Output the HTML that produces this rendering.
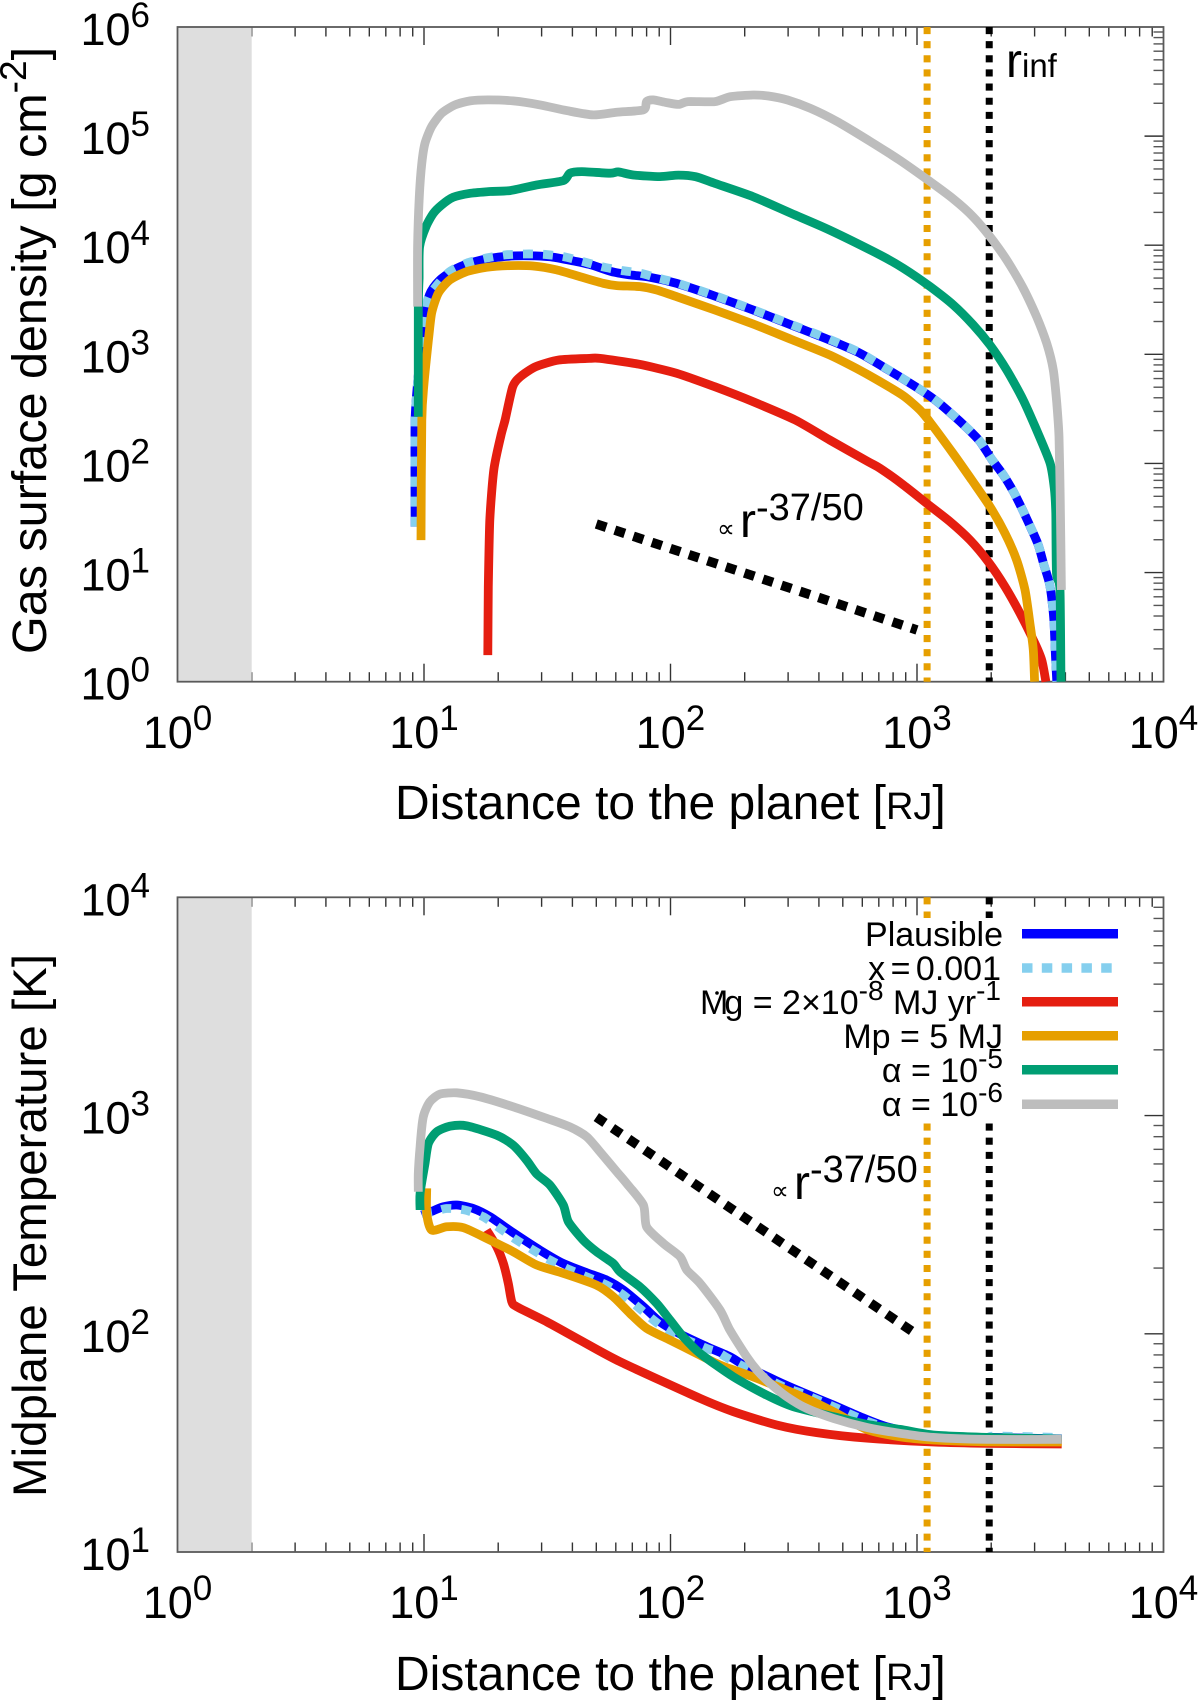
<!DOCTYPE html>
<html lang="en">
<head>
<meta charset="utf-8">
<title>Gas surface density and midplane temperature</title>
<style>
html,body{margin:0;padding:0;background:#fff;}
svg{display:block;}
text{font-family:"Liberation Sans","DejaVu Sans",sans-serif;fill:#000;}
</style>
</head>
<body>
<svg id="chart" xmlns="http://www.w3.org/2000/svg" width="1200" height="1701" viewBox="0 0 1200 1701">
  <rect x="0" y="0" width="1200" height="1701" fill="#fff"/>
  <g id="top-layer"></g>
  <g id="bottom-layer"></g>

  <text transform="translate(46,654) rotate(-90)" font-size="48.5">Gas surface density [g cm<tspan font-size="37" dy="-20">-2</tspan><tspan dy="20">]</tspan></text>
  <text transform="translate(46,1497) rotate(-90)" font-size="47.5">Midplane Temperature [K]</text>
  <text x="395" y="819" font-size="48">Distance to the planet [<tspan font-size="38">RJ</tspan>]</text>
  <text x="395" y="1690" font-size="48">Distance to the planet [<tspan font-size="38">RJ</tspan>]</text>

  <text x="1006" y="77" font-size="48">r<tspan font-size="33">inf</tspan></text>
  <text x="717" y="537" font-size="25" font-family="DejaVu Sans">∝</text>
  <text x="740" y="537" font-size="48">r<tspan font-size="38" dy="-17">-37/50</tspan></text>
  <text x="771" y="1199" font-size="25" font-family="DejaVu Sans">∝</text>
  <text x="794" y="1199" font-size="48">r<tspan font-size="38" dy="-17">-37/50</tspan></text>

  <g>
    <rect x="690" y="918" width="450" height="202" fill="#fff"/>
    <text x="1003" y="946" font-size="34" text-anchor="end">Plausible</text>
    <rect x="1022" y="929" width="96" height="9.5" fill="#0000ff"/>
    <text x="1001" y="980" font-size="34" text-anchor="end" word-spacing="-4">x = 0.001</text>
    <line x1="1022" y1="968" x2="1114" y2="968" stroke="#85cfee" stroke-width="9.5" stroke-dasharray="10.5 9.3"/>
    <text x="1001" y="1014" font-size="34" text-anchor="end">M<tspan dx="-4">g</tspan> = 2×10<tspan font-size="28" dy="-14">-8</tspan><tspan dy="14"> MJ yr</tspan><tspan font-size="28" dy="-14">-1</tspan></text>
    <circle cx="717" cy="993" r="1.8" fill="#000"/>
    <rect x="1022" y="997" width="96" height="9.5" fill="#e51e10"/>
    <text x="1003" y="1048" font-size="34" text-anchor="end">Mp = 5 MJ</text>
    <rect x="1022" y="1031" width="96" height="9.5" fill="#e69f00"/>
    <text x="1003" y="1082" font-size="34" text-anchor="end">α = 10<tspan font-size="28" dy="-14">-5</tspan></text>
    <rect x="1022" y="1065" width="96" height="9.5" fill="#009e73"/>
    <text x="1003" y="1116" font-size="34" text-anchor="end">α = 10<tspan font-size="28" dy="-14">-6</tspan></text>
    <rect x="1022" y="1099.5" width="96" height="9.5" fill="#bdbdbd"/>
  </g>
</svg>
<script>
// All series values are log10 of the physical quantity.
const xTickExponents = [0, 1, 2, 3, 4];
const sigmaTickExponents = [0, 1, 2, 3, 4, 5, 6];
const tempTickExponents = [1, 2, 3, 4];
const minorMultiples = [2, 3, 4, 5, 6, 7, 8, 9];

const innerHoleLogR = [0, 0.301];
const referenceLogR = [3.041, 3.293];
const guideLogR = [1.699, 3.0];
const guideSigmaLog = [1.445, 0.474];
const guideTempLog = [2.993, 1.996];

const sigmaPlausibleLogR = [0.964,0.964,0.980,0.997,1.022,1.065,1.133,1.207,1.288,1.369,1.450,1.525,1.606,1.680,1.761,1.836,1.917,2.025,2.180,2.335,2.490,2.646,2.770,2.884,2.951,3.019,3.082,3.145,3.204,3.256,3.303,3.350,3.391,3.427,3.461,3.492,3.515,3.537,3.549,3.556,3.562,3.567];
const sigmaPlausibleLog = [1.421,2.398,2.887,3.254,3.544,3.682,3.789,3.850,3.887,3.902,3.902,3.890,3.856,3.819,3.758,3.728,3.706,3.650,3.534,3.406,3.269,3.131,3.009,2.857,2.765,2.668,2.567,2.445,2.322,2.200,2.038,1.895,1.742,1.580,1.415,1.253,1.070,0.902,0.718,0.535,0.229,0];

const sigmaXLogR = [0.964,0.964,0.980,1.000,1.008,1.024,1.099,1.173,1.247,1.329,1.410,1.484,1.565,1.646,1.720,1.802,1.879,1.951,2.025,2.180,2.335,2.490,2.646,2.770,2.884,2.951,3.019,3.082,3.145,3.204,3.256,3.303,3.350,3.391,3.427,3.461,3.492,3.515,3.537,3.549,3.556,3.562,3.567];
const sigmaXLog = [1.421,2.398,2.890,3.280,3.438,3.550,3.749,3.835,3.880,3.911,3.920,3.917,3.896,3.850,3.804,3.768,3.743,3.697,3.655,3.538,3.410,3.274,3.137,3.013,2.858,2.766,2.669,2.568,2.446,2.323,2.201,2.039,1.896,1.743,1.581,1.416,1.254,1.071,0.903,0.719,0.536,0.230,0];

const sigmaRedLogR = [1.259,1.261,1.267,1.283,1.311,1.329,1.360,1.391,1.453,1.547,1.671,1.714,1.869,2.025,2.180,2.335,2.506,2.646,2.801,2.850,2.945,3.039,3.134,3.215,3.289,3.357,3.418,3.472,3.506,3.523];
const sigmaRedLog = [0.244,0.871,1.482,1.940,2.246,2.398,2.703,2.795,2.887,2.948,2.963,2.963,2.911,2.826,2.703,2.566,2.398,2.215,2.017,1.956,1.803,1.635,1.467,1.299,1.100,0.871,0.627,0.382,0.199,0];

const sigmaOrangeLogR = [0.988,0.991,1.000,1.018,1.031,1.058,1.105,1.173,1.254,1.349,1.443,1.538,1.633,1.727,1.782,1.876,1.944,2.025,2.180,2.335,2.490,2.646,2.754,2.850,2.945,3.012,3.059,3.147,3.222,3.296,3.357,3.404,3.438,3.458,3.472,3.477];
const sigmaOrangeLog = [1.298,2.398,2.734,3.132,3.376,3.560,3.682,3.758,3.798,3.813,3.810,3.774,3.712,3.651,3.630,3.621,3.590,3.528,3.406,3.278,3.137,2.994,2.871,2.750,2.620,2.490,2.360,2.090,1.849,1.604,1.360,1.115,0.841,0.535,0.291,0];

const sigmaGreenLogR = [0.977,0.977,0.980,0.982,1.008,1.038,1.072,1.119,1.187,1.268,1.349,1.457,1.565,1.592,1.640,1.755,1.788,1.849,1.957,2.032,2.102,2.180,2.335,2.490,2.646,2.850,2.945,3.053,3.147,3.228,3.296,3.364,3.431,3.485,3.540,3.557,3.563,3.566,3.580,3.584];
const sigmaGreenLog = [2.428,3.438,3.700,3.987,4.171,4.293,4.369,4.440,4.476,4.492,4.501,4.553,4.592,4.660,4.675,4.660,4.672,4.644,4.629,4.643,4.628,4.567,4.445,4.292,4.139,3.911,3.789,3.621,3.453,3.270,3.086,2.857,2.582,2.307,2.002,1.773,1.543,0.993,0.841,0];

const sigmaGreyLogR = [0.974,0.974,0.981,0.991,1.004,1.031,1.072,1.126,1.187,1.261,1.362,1.471,1.579,1.687,1.782,1.890,1.903,1.930,1.978,2.032,2.071,2.180,2.242,2.335,2.397,2.475,2.568,2.677,2.801,2.925,3.053,3.147,3.228,3.296,3.364,3.431,3.485,3.526,3.553,3.567,3.576,3.581,3.586];
const sigmaGreyLog = [3.438,3.987,4.446,4.751,4.935,5.087,5.210,5.286,5.323,5.332,5.323,5.286,5.234,5.194,5.219,5.240,5.317,5.332,5.310,5.291,5.316,5.316,5.361,5.377,5.368,5.331,5.254,5.132,4.964,4.787,4.583,4.425,4.260,4.079,3.865,3.606,3.346,3.101,2.857,2.551,2.246,1.696,0.841];

const tempPlausibleLogR = [0.991,1.038,1.078,1.133,1.200,1.268,1.362,1.471,1.565,1.660,1.741,1.809,1.890,1.957,2.039,2.147,2.241,2.309,2.458,2.539,2.661,2.769,2.877,3.066,3.283,3.310,3.587];
const tempPlausibleLog = [2.544,2.564,2.582,2.590,2.574,2.536,2.463,2.383,2.322,2.280,2.246,2.200,2.124,2.055,1.999,1.941,1.895,1.849,1.770,1.730,1.673,1.620,1.574,1.528,1.518,1.525,1.518];

const tempXLogR = [0.991,1.038,1.092,1.166,1.241,1.308,1.376,1.444,1.511,1.579,1.660,1.741,1.809,1.890,1.957,2.039,2.147,2.187,2.241,2.323,2.458,2.539,2.661,2.769,2.877,3.066,3.283,3.310,3.587];
const tempXLog = [2.552,2.559,2.574,2.567,2.536,2.483,2.429,2.383,2.338,2.299,2.261,2.223,2.177,2.101,2.040,1.986,1.933,1.918,1.883,1.834,1.757,1.724,1.666,1.612,1.570,1.528,1.519,1.531,1.525];

const tempRedLogR = [1.254,1.295,1.322,1.342,1.356,1.376,1.498,1.633,1.795,2.120,2.255,2.431,2.593,2.796,3.066,3.283,3.587];
const tempRedLog = [2.475,2.399,2.322,2.231,2.147,2.124,2.055,1.971,1.872,1.704,1.643,1.582,1.547,1.522,1.504,1.498,1.495];

const tempOrangeLogR = [1.011,1.011,1.031,1.092,1.160,1.254,1.362,1.457,1.565,1.700,1.768,1.836,1.903,1.998,2.106,2.201,2.350,2.539,2.661,2.796,2.931,3.066,3.283,3.587];
const tempOrangeLog = [2.666,2.551,2.475,2.490,2.486,2.437,2.376,2.315,2.277,2.223,2.170,2.093,2.025,1.971,1.910,1.857,1.796,1.709,1.643,1.562,1.528,1.513,1.505,1.504];

const tempGreenLogR = [0.984,0.984,1.004,1.018,1.051,1.105,1.173,1.295,1.362,1.416,1.457,1.511,1.565,1.586,1.646,1.700,1.768,1.795,1.876,1.944,1.998,2.052,2.120,2.255,2.390,2.498,2.661,2.796,2.931,3.066,3.283,3.587];
const tempGreenLog = [2.567,2.643,2.780,2.872,2.925,2.951,2.953,2.910,2.864,2.796,2.732,2.681,2.590,2.513,2.429,2.376,2.322,2.284,2.215,2.139,2.063,1.986,1.910,1.803,1.719,1.666,1.620,1.585,1.562,1.536,1.525,1.517];

const tempGreyLogR = [0.977,0.977,0.984,0.997,1.024,1.065,1.133,1.227,1.362,1.498,1.592,1.660,1.714,1.782,1.822,1.890,1.903,1.971,2.039,2.066,2.120,2.201,2.241,2.309,2.350,2.404,2.471,2.552,2.661,2.796,2.931,3.066,3.283,3.587];
const tempGreyLog = [2.651,2.735,2.857,2.994,3.063,3.098,3.104,3.086,3.040,2.987,2.948,2.903,2.834,2.742,2.689,2.590,2.490,2.414,2.353,2.292,2.231,2.109,2.017,1.895,1.834,1.773,1.712,1.658,1.612,1.571,1.544,1.525,1.516,1.516];

const NS = 'http://www.w3.org/2000/svg';
const plotLeft = 177.5, plotRight = 1163.5;
const sigmaTop = 27, sigmaBottom = 681.7;
const tempTop = 897.3, tempBottom = 1552;
const smoothing = 0.12;

function xScale(logR) { return plotLeft + (logR - 0) / 4 * (plotRight - plotLeft); }
function sigmaScale(v) { return sigmaBottom - (v - 0) / 6 * (sigmaBottom - sigmaTop); }
function tempScale(v) { return tempBottom - (v - 1) / 3 * (tempBottom - tempTop); }

function make(parent, tag, attrs) {
  const node = document.createElementNS(NS, tag);
  for (const key in attrs) node.setAttribute(key, attrs[key]);
  parent.appendChild(node);
  return node;
}

function drawTicks(layer, yScale, yExps, top, bottom) {
  xTickExponents.forEach(function (exp) {
    if (exp > 0 && exp < 4) {
      const px = xScale(exp);
      const tickB = make(layer, 'line', { x1: px, x2: px, y1: bottom, y2: bottom - 18, stroke: '#333', 'stroke-width': 1.4 });
      
      
      const tickT = make(layer, 'line', { x1: px, x2: px, y1: top, y2: top + 18, stroke: '#333', 'stroke-width': 1.4 });
      
      
    }
    if (exp < 4) {
      minorMultiples.forEach(function (m) {
        const px = xScale(exp + Math.log10(m));
        const minorB = make(layer, 'line', { x1: px, x2: px, y1: bottom, y2: bottom - 9.5, stroke: '#333', 'stroke-width': 1.4 });
        
        
        const minorT = make(layer, 'line', { x1: px, x2: px, y1: top, y2: top + 9.5, stroke: '#333', 'stroke-width': 1.4 });
        
        
      });
    }
  });
  yExps.forEach(function (exp, i) {
    const py = yScale(exp);
    if (i > 0 && i < yExps.length - 1) {
      const major = make(layer, 'line', { x1: plotRight, x2: plotRight - 19, y1: py, y2: py, stroke: '#333', 'stroke-width': 1.4 });
      
      
    }
    if (i < yExps.length - 1) {
      minorMultiples.forEach(function (m) {
        const my = yScale(exp + Math.log10(m));
        const minor = make(layer, 'line', { x1: plotRight, x2: plotRight - 10, y1: my, y2: my, stroke: '#555', 'stroke-width': 1.4 });
        
        
      });
    }
  });
}

function drawTickLabels(layer, yScale, yExps, labelY) {
  xTickExponents.forEach(function (exp) {
    const label = make(layer, 'text', { x: xScale(exp), y: labelY, 'font-size': 45, 'text-anchor': 'middle' });
    
    
    label.appendChild(document.createTextNode('10'));
    const sup = make(label, 'tspan', { 'font-size': 35, dy: -18 });
    sup.textContent = exp;
  });
  yExps.forEach(function (exp) {
    const label = make(layer, 'text', { x: 150, y: yScale(exp) + 18, 'font-size': 45, 'text-anchor': 'end' });
    
    
    label.appendChild(document.createTextNode('10'));
    const sup = make(label, 'tspan', { 'font-size': 35, dy: -18 });
    sup.textContent = exp;
  });
}

function drawShade(layer, top, bottom) {
  const x0 = xScale(innerHoleLogR[0]);
  const x1 = xScale(innerHoleLogR[1]);
  const shade = make(layer, 'rect', { x: x0, y: top, width: x1 - x0, height: bottom - top, fill: '#dedede' });
  
  
}

function drawFrame(layer, top, bottom) {
  const frame = make(layer, 'rect', { x: plotLeft, y: top, width: plotRight - plotLeft, height: bottom - top, fill: 'none', stroke: '#5a5a5a', 'stroke-width': 1.8 });
  
  
}

function drawReferences(layer, top, bottom) {
  const colors = ['#e69f00', '#000000'];
  referenceLogR.forEach(function (logR, i) {
    const px = xScale(logR);
    const ref = make(layer, 'line', { x1: px, x2: px, y1: top, y2: bottom, stroke: colors[i], 'stroke-width': 7, 'stroke-dasharray': '7.07 7.07' });
    
    
  });
}

function drawGuide(layer, values, yScale) {
  const guide = make(layer, 'line', { x1: xScale(guideLogR[0]), y1: yScale(values[0]), x2: xScale(guideLogR[1]), y2: yScale(values[1]), stroke: '#000', 'stroke-width': 9.5, 'stroke-dasharray': '10.5 9' });
  
  
}

function curvePath(xs, ys, yScale) {
  const pts = xs.map(function (v, i) { return [xScale(v), yScale(ys[i])]; });
  let d = 'M' + pts[0][0].toFixed(1) + ' ' + pts[0][1].toFixed(1);
  for (let i = 0; i < pts.length - 1; i++) {
    const p0 = pts[Math.max(i - 1, 0)];
    const p1 = pts[i];
    const p2 = pts[i + 1];
    const p3 = pts[Math.min(i + 2, pts.length - 1)];
    const c1x = p1[0] + (p2[0] - p0[0]) * smoothing;
    const c1y = p1[1] + (p2[1] - p0[1]) * smoothing;
    const c2x = p2[0] - (p3[0] - p1[0]) * smoothing;
    const c2y = p2[1] - (p3[1] - p1[1]) * smoothing;
    d += ' C' + c1x.toFixed(1) + ' ' + c1y.toFixed(1) + ' ' + c2x.toFixed(1) + ' ' + c2y.toFixed(1) + ' ' + p2[0].toFixed(1) + ' ' + p2[1].toFixed(1);
  }
  return d;
}

function drawCurve(layer, xs, ys, yScale, color, dash, name) {
  const attrs = { d: curvePath(xs, ys, yScale), fill: 'none', stroke: color, 'stroke-width': 8.8, 'stroke-linejoin': 'round', 'stroke-linecap': 'butt' };
  if (dash) attrs['stroke-dasharray'] = dash;
  const path = make(layer, 'path', attrs);
  
  
}

const topLayer = document.getElementById('top-layer');
const bottomLayer = document.getElementById('bottom-layer');

drawTicks(topLayer, sigmaScale, sigmaTickExponents, sigmaTop, sigmaBottom);
drawShade(topLayer, sigmaTop, sigmaBottom);
drawFrame(topLayer, sigmaTop, sigmaBottom);
drawTickLabels(topLayer, sigmaScale, sigmaTickExponents, 748);
drawReferences(topLayer, sigmaTop, sigmaBottom);
drawGuide(topLayer, guideSigmaLog, sigmaScale);
drawCurve(topLayer, sigmaPlausibleLogR, sigmaPlausibleLog, sigmaScale, '#0000ff', null, 'sigma-curve-plausible');
drawCurve(topLayer, sigmaXLogR, sigmaXLog, sigmaScale, '#85cfee', '10 10', 'sigma-curve-x-0001');
drawCurve(topLayer, sigmaRedLogR, sigmaRedLog, sigmaScale, '#e51e10', null, 'sigma-curve-accretion');
drawCurve(topLayer, sigmaOrangeLogR, sigmaOrangeLog, sigmaScale, '#e69f00', null, 'sigma-curve-planet-mass');
drawCurve(topLayer, sigmaGreenLogR, sigmaGreenLog, sigmaScale, '#009e73', null, 'sigma-curve-alpha-5');
drawCurve(topLayer, sigmaGreyLogR, sigmaGreyLog, sigmaScale, '#bdbdbd', null, 'sigma-curve-alpha-6');

drawTicks(bottomLayer, tempScale, tempTickExponents, tempTop, tempBottom);
drawShade(bottomLayer, tempTop, tempBottom);
drawFrame(bottomLayer, tempTop, tempBottom);
drawTickLabels(bottomLayer, tempScale, tempTickExponents, 1618);
drawReferences(bottomLayer, tempTop, tempBottom);
drawGuide(bottomLayer, guideTempLog, tempScale);
drawCurve(bottomLayer, tempPlausibleLogR, tempPlausibleLog, tempScale, '#0000ff', null, 'temp-curve-plausible');
drawCurve(bottomLayer, tempXLogR, tempXLog, tempScale, '#85cfee', '10 10', 'temp-curve-x-0001');
drawCurve(bottomLayer, tempRedLogR, tempRedLog, tempScale, '#e51e10', null, 'temp-curve-accretion');
drawCurve(bottomLayer, tempOrangeLogR, tempOrangeLog, tempScale, '#e69f00', null, 'temp-curve-planet-mass');
drawCurve(bottomLayer, tempGreenLogR, tempGreenLog, tempScale, '#009e73', null, 'temp-curve-alpha-5');
drawCurve(bottomLayer, tempGreyLogR, tempGreyLog, tempScale, '#bdbdbd', null, 'temp-curve-alpha-6');
</script>
</body>
</html>
